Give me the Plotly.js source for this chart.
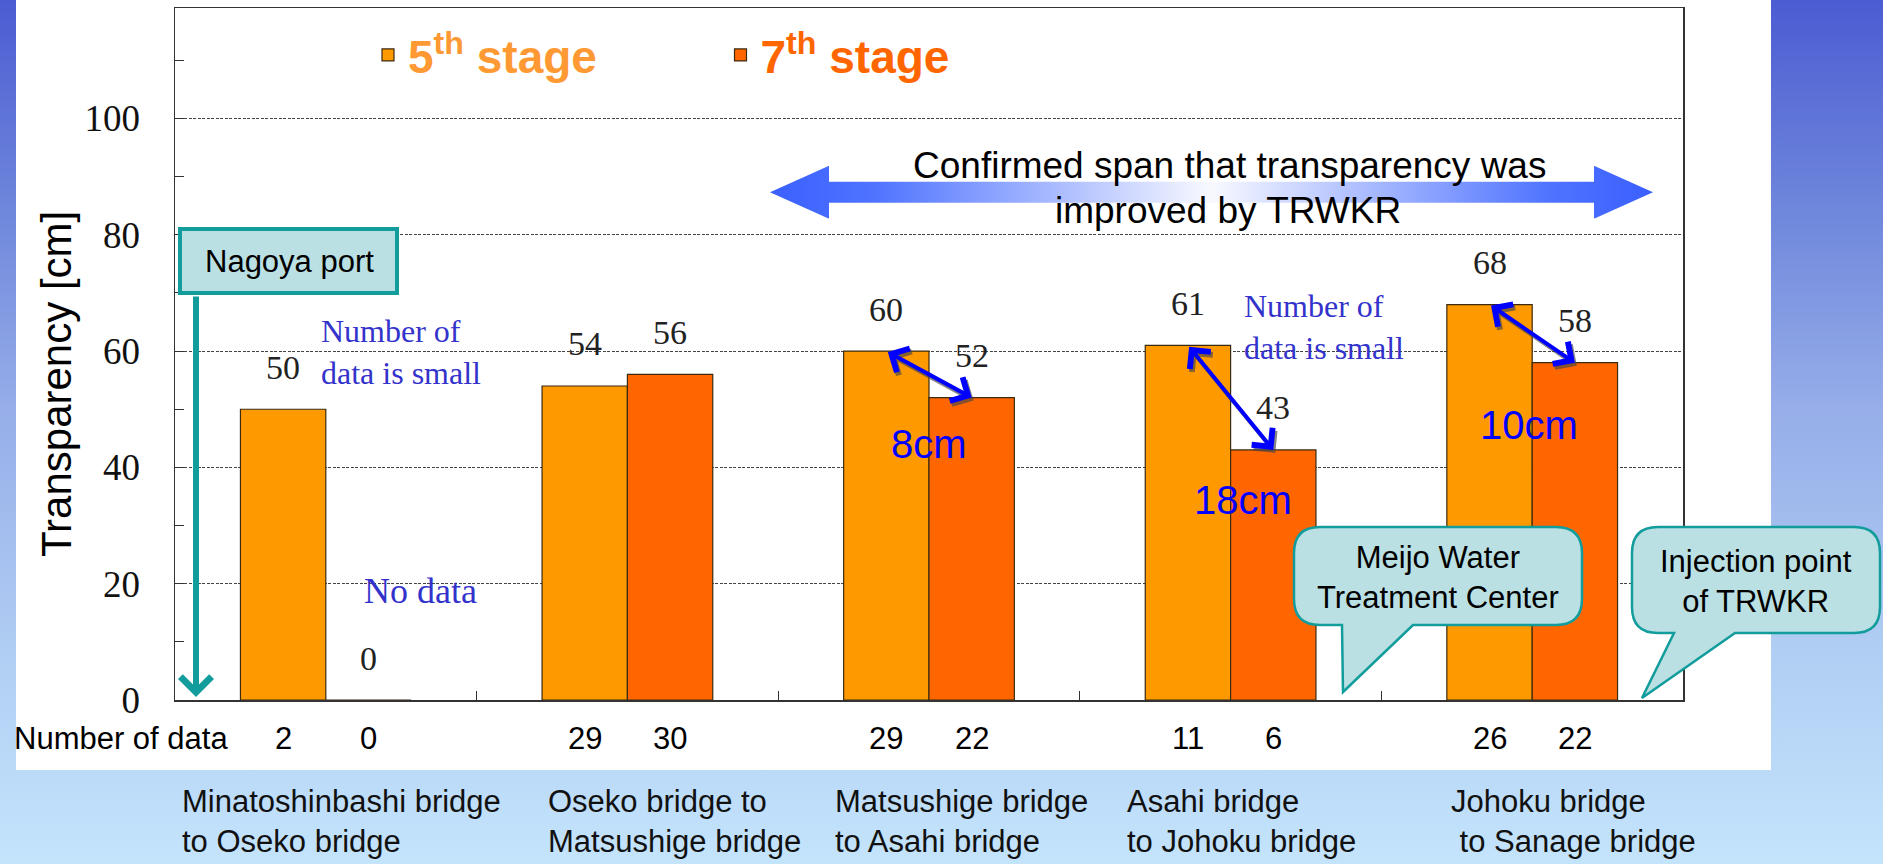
<!DOCTYPE html>
<html>
<head>
<meta charset="utf-8">
<script src="https://cdn.plot.ly/plotly-3.0.1.min.js"></script>
<style>
  html, body { margin: 0; padding: 0; }
  body {
    width: 1883px; height: 864px; overflow: hidden; position: relative;
    background: linear-gradient(to bottom, #4b5cd2 0%, #7088dc 25%, #96ade9 47%, #b0cdf3 75%, #c4e4fc 100%);
  }
  #sheet { position: absolute; left: 16px; top: 0; width: 1755px; height: 770px; background: #ffffff; }
  #chart { position: absolute; left: 0; top: 0; width: 1883px; height: 864px; }
</style>
</head>
<body>
<div id="sheet"></div>
<div id="chart"></div>
<script>
// ---------------- data ----------------
const categories = [
  'Minatoshinbashi bridge<br>to Oseko bridge',
  'Oseko bridge to<br>Matsushige bridge',
  'Matsushige bridge<br>to Asahi bridge',
  'Asahi bridge<br>to Johoku bridge',
  'Johoku bridge<br> to Sanage bridge'
];
const stage5 = [50, 54, 60, 61, 68];
const stage7 = [0, 56, 52, 43, 58];
const count5 = [2, 29, 29, 11, 26];
const count7 = [0, 30, 22, 6, 22];
const improvedIdx = [2, 3, 4];
const yTicks = [0, 20, 40, 60, 80, 100];

// ---------------- layout helpers ----------------
const FW = 1883, FH = 864;
const L = 175, R = 1683, T = 8, B = 700;
const W = R - L, H = B - T;
const px = x => (x - L) / W;
const py = y => (B - y) / H;
const SANS = 'Liberation Sans, Arial, sans-serif';
const SERIF = 'Liberation Serif, Times New Roman, serif';
const bargap = 0.434;
const off = (1 - bargap) / 4;
const xs = categories.map((_, i) => i);

const traces = [
  { type: 'bar', x: xs, y: stage5, name: '<b><span style="color:#FF9933">5<sup>th</sup> stage</span></b>',
    marker: { color: '#FF9900', line: { color: '#3a2a10', width: 1.2 } }, hoverinfo: 'skip' },
  { type: 'bar', x: xs, y: stage7, name: '<b><span style="color:#FF6600">7<sup>th</sup> stage</span></b>',
    marker: { color: '#FF6600', line: { color: '#3a2a10', width: 1.2 } }, hoverinfo: 'skip' }
];

const ann = [];
// value labels
xs.forEach(i => {
  ann.push({ xref: 'x', yref: 'y', x: i - off, y: stage5[i], yshift: 42, text: String(stage5[i]),
    showarrow: false, font: { family: SERIF, size: 34, color: '#222' } });
  ann.push({ xref: 'x', yref: 'y', x: i + off, y: stage7[i], yshift: 42, text: String(stage7[i]),
    showarrow: false, font: { family: SERIF, size: 34, color: '#222' } });
  // counts
  ann.push({ xref: 'x', yref: 'paper', x: i - off, y: py(739), text: String(count5[i]),
    showarrow: false, font: { family: SANS, size: 31, color: '#000' } });
  ann.push({ xref: 'x', yref: 'paper', x: i + off, y: py(739), text: String(count7[i]),
    showarrow: false, font: { family: SANS, size: 31, color: '#000' } });
});
ann.push({ xref: 'paper', yref: 'paper', x: px(12), y: py(739), xanchor: 'left', text: 'Number of data',
  showarrow: false, font: { family: SANS, size: 31, color: '#000' } });

// category labels
const catLeft = [180, 546, 833, 1125, 1449];
categories.forEach((c, i) => {
  ann.push({ xref: 'paper', yref: 'paper', x: px(catLeft[i]), y: py(821), xanchor: 'left', yanchor: 'middle',
    align: 'left', text: c, showarrow: false, font: { family: SANS, size: 31, color: '#111' } });
});

// improvement arrows + labels
const diffPos = { 2: [2.0, 44], 3: [3.04, 34.4], 4: [3.99, 47.3] };
improvedIdx.forEach(i => {
  const base = { xref: 'x', yref: 'y', axref: 'x', ayref: 'y', x: i + off, y: stage7[i], ax: i - off, ay: stage5[i],
    text: '', showarrow: true, arrowside: 'end+start', arrowhead: 4, startarrowhead: 4,
    arrowsize: 1.3, startarrowsize: 1.3, arrowwidth: 4, standoff: 0, startstandoff: 0 };
  ann.push(Object.assign({}, base, { arrowcolor: 'rgba(70,70,70,0.65)', xshift: 2, yshift: -3 }));
  ann.push(Object.assign({}, base, { arrowcolor: '#0000FF' }));
  ann.push({ xref: 'x', yref: 'y', x: diffPos[i][0], y: diffPos[i][1], text: (stage5[i] - stage7[i]) + 'cm',
    showarrow: false, font: { family: SANS, size: 40, color: '#0000FF' } });
});

// blue notes
ann.push({ xref: 'paper', yref: 'paper', x: px(319), y: py(352), xanchor: 'left', yanchor: 'middle', align: 'left',
  text: 'Number of<br>data is small', showarrow: false, font: { family: SERIF, size: 32, color: '#3333CC' } });
ann.push({ xref: 'paper', yref: 'paper', x: px(1242), y: py(327), xanchor: 'left', yanchor: 'middle', align: 'left',
  text: 'Number of<br>data is small', showarrow: false, font: { family: SERIF, size: 32, color: '#3333CC' } });
ann.push({ xref: 'paper', yref: 'paper', x: px(420), y: py(591), text: 'No data', showarrow: false,
  font: { family: SERIF, size: 36, color: '#3333CC' } });

// y title
ann.push({ xref: 'paper', yref: 'paper', x: px(56), y: py(384), text: 'Transparency [cm]', textangle: -90,
  showarrow: false, font: { family: SANS, size: 42, color: '#000' } });

// confirmed span text
ann.push({ xref: 'paper', yref: 'paper', x: px(1229), y: py(165), text: 'Confirmed span that transparency was',
  showarrow: false, font: { family: SANS, size: 37, color: '#000' } });
ann.push({ xref: 'paper', yref: 'paper', x: px(1228), y: py(210), text: 'improved by TRWKR',
  showarrow: false, font: { family: SANS, size: 37, color: '#000' } });

// Nagoya port
ann.push({ xref: 'paper', yref: 'paper', x: px(196), y: py(697), ax: 0, ay: -402, text: '', showarrow: true,
  arrowhead: 4, arrowsize: 1.0, arrowwidth: 6, arrowcolor: '#129C9C', standoff: 0 });
ann.push({ xref: 'paper', yref: 'paper', x: px(289), y: py(261), text: 'Nagoya port', showarrow: false,
  font: { family: SANS, size: 31, color: '#000' } });
// callout texts
ann.push({ xref: 'paper', yref: 'paper', x: px(1438), y: py(577), text: 'Meijo Water<br>Treatment Center',
  showarrow: false, font: { family: SANS, size: 31, color: '#000' } });
ann.push({ xref: 'paper', yref: 'paper', x: px(1756), y: py(581), text: 'Injection point<br>of TRWKR',
  showarrow: false, font: { family: SANS, size: 31, color: '#000' } });

// explicit anchors everywhere (avoid 'auto' anchoring)
ann.forEach(a => {
  if (!a.xanchor) a.xanchor = 'center';
  if (!a.yanchor) a.yanchor = 'middle';
});

// shapes
function P(x, y) { return px(x).toFixed(5) + ',' + py(y).toFixed(5); }
function callout(x0, y0, x1, y1, r, tl, tr, tipx, tipy) {
  return 'M' + P(x0 + r, y0) + ' L' + P(x1 - r, y0) + ' Q' + P(x1, y0) + ' ' + P(x1, y0 + r) +
    ' L' + P(x1, y1 - r) + ' Q' + P(x1, y1) + ' ' + P(x1 - r, y1) + ' L' + P(tr, y1) + ' L' + P(tipx, tipy) +
    ' L' + P(tl, y1) + ' L' + P(x0 + r, y1) + ' Q' + P(x0, y1) + ' ' + P(x0, y1 - r) +
    ' L' + P(x0, y0 + r) + ' Q' + P(x0, y0) + ' ' + P(x0 + r, y0) + ' Z';
}
const shapes = [
  { type: 'rect', xref: 'paper', yref: 'paper', x0: px(180), x1: px(397), y0: py(229), y1: py(293),
    line: { color: '#129C9C', width: 4 }, fillcolor: '#BBE0E3', layer: 'above' },
  { type: 'path', xref: 'paper', yref: 'paper', path: callout(1294, 527, 1582, 625, 26, 1342, 1413, 1343, 692),
    line: { color: '#129C9C', width: 2.5 }, fillcolor: '#BBE0E3', layer: 'above' },
  { type: 'path', xref: 'paper', yref: 'paper', path: callout(1632, 527, 1880, 633, 26, 1674, 1735, 1642, 698),
    line: { color: '#129C9C', width: 2.5 }, fillcolor: '#BBE0E3', layer: 'above' }
];

const arrowSvg = '<svg xmlns="http://www.w3.org/2000/svg" width="883" height="53" viewBox="0 0 883 53" preserveAspectRatio="none">' +
  '<defs><linearGradient id="g" x1="0" x2="1" y1="0" y2="0">' +
  '<stop offset="0" stop-color="#3a5fff"/><stop offset="0.12" stop-color="#5074ff"/>' +
  '<stop offset="0.5" stop-color="#f8f9ff"/><stop offset="0.88" stop-color="#5074ff"/><stop offset="1" stop-color="#3a5fff"/>' +
  '</linearGradient></defs>' +
  '<polygon points="0,26.5 59,0 59,16 824,16 824,0 883,26.5 824,53 824,37 59,37 59,53" fill="url(#g)"/></svg>';

const layout = {
  width: FW, height: FH,
  margin: { l: L, r: FW - R, t: T, b: FH - B },
  paper_bgcolor: 'rgba(0,0,0,0)', plot_bgcolor: '#ffffff',
  barmode: 'group', bargap: bargap, bargroupgap: 0,
  showlegend: true,
  legend: { orientation: 'h', x: px(368), xanchor: 'left', y: py(55), yanchor: 'middle',
    font: { family: SANS, size: 46 }, entrywidth: 307.5, entrywidthmode: 'pixels',
    bgcolor: 'rgba(0,0,0,0)', borderwidth: 0 },
  xaxis: { range: [-0.5, 4.5], tickvals: [0.5, 1.5, 2.5, 3.5], ticks: 'inside', ticklen: 9, tickcolor: '#333',
    showticklabels: false, showgrid: false, zeroline: false, showline: true, linecolor: '#333', linewidth: 1.5, mirror: true },
  yaxis: { range: [0, 119], tickvals: yTicks, ticks: 'inside', ticklen: 9, tickcolor: '#333',
    minor: { dtick: 10, tick0: 0, ticks: 'inside', ticklen: 9, tickcolor: '#333', showgrid: false },
    showgrid: true, gridcolor: '#444', gridwidth: 1, griddash: '3px,1.5px', zeroline: false,
    showline: true, linecolor: '#333', linewidth: 1.5, mirror: true, ticklabelstandoff: 26,
    tickfont: { family: SERIF, size: 37, color: '#111' } },
  annotations: ann,
  shapes: shapes,
  images: [{ source: 'data:image/svg+xml;charset=utf-8,' + encodeURIComponent(arrowSvg),
    xref: 'paper', yref: 'paper', x: px(770), y: py(165.7), sizex: 883 / W, sizey: 53 / H,
    xanchor: 'left', yanchor: 'top', sizing: 'stretch', layer: 'above' }],
  hovermode: false
};

Plotly.newPlot('chart', traces, layout, { staticPlot: true, displayModeBar: false });
</script>
</body>
</html>
